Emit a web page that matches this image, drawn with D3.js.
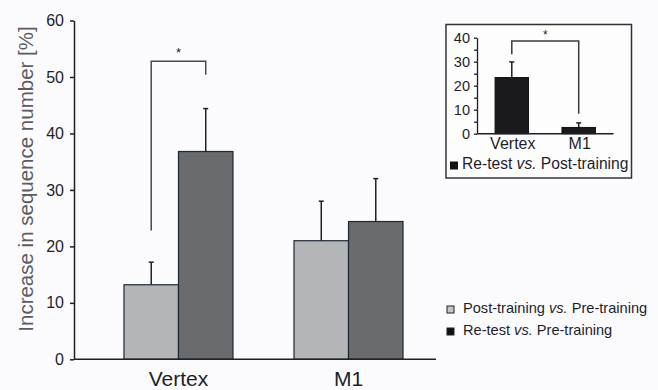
<!DOCTYPE html>
<html>
<head>
<meta charset="utf-8">
<script src="https://cdn.jsdelivr.net/npm/d3@7"></script>
<style>
body{margin:0;background:#fbfbfd}
svg{display:block;font-family:'Liberation Sans',Arial,sans-serif}
</style>
</head>
<body>
<svg id="chart" width="658" height="390"></svg>
<script>
// main panel: increase vs. pre-training
var groups = ['Vertex', 'M1']
var series = ['post', 'retest']
var seriesText = [['Post-training ', 'vs.', ' Pre-training'], ['Re-test ', 'vs.', ' Pre-training']]
var postMeans = [13.2, 21.0]
var postSem = [4.0, 7.0]
var retestMeans = [36.8, 24.4]
var retestSem = [7.6, 7.6]
var yTicks = [0, 10, 20, 30, 40, 50, 60]
// significance bracket (values in %): top, left leg end, right leg end
var sigMain = [52.8, 22.8, 50.4]

// inset: re-test vs. post-training
var insetMeans = [23.4, 2.6]
var insetSem = [6.5, 1.9]
var insetTicks = [0, 10, 20, 30, 40]
var insetMinor = [0, 5, 10, 15, 20, 25, 30, 35, 40]
var sigInset = [38.6, 33.1, 8.3]
var insetText = ['Re-test ', 'vs.', ' Post-training']

var svg = d3.select('#chart')
var ink = '#1d1f2b'

var y = d3.scaleLinear().domain([0, 60]).range([359.3, 20.5])
var x = d3.scaleBand().domain(groups).range([74, 453]).paddingInner(0.359).paddingOuter(0.294)
var xs = d3.scaleBand().domain(series).range([0, x.bandwidth()])
var fill = {post: '#b4b5b7', retest: '#6a6b6e'}

var bars = []
groups.forEach((g, i) => {
  bars.push({g: g, s: 'post', v: postMeans[i], e: postSem[i]})
  bars.push({g: g, s: 'retest', v: retestMeans[i], e: retestSem[i]})
})
var bx = d => x(d.g) + xs(d.s)

// bracket
var bl = x('Vertex') + xs('post') + xs.bandwidth() / 2
var br = x('Vertex') + xs('retest') + xs.bandwidth() / 2
svg.append('path')
  .attr('d', `M${bl},${y(sigMain[1])}V${y(sigMain[0])}H${br}V${y(sigMain[2])}`)
  .attr('fill', 'none').attr('stroke', '#4a4a50').attr('stroke-width', 1.5)
svg.append('text').attr('x', (bl + br) / 2).attr('y', y(sigMain[0]) - 4)
  .attr('text-anchor', 'middle').attr('font-size', 13).attr('fill', ink).text('*')

// error bars
var err = svg.append('g').attr('stroke', ink).attr('stroke-width', 1.5)
err.selectAll('line.v').data(bars).join('line')
  .attr('x1', d => bx(d) + xs.bandwidth() / 2).attr('x2', d => bx(d) + xs.bandwidth() / 2)
  .attr('y1', d => y(d.v)).attr('y2', d => y(d.v + d.e))
err.selectAll('line.c').data(bars).join('line')
  .attr('x1', d => bx(d) + xs.bandwidth() / 2 - 2.5).attr('x2', d => bx(d) + xs.bandwidth() / 2 + 2.5)
  .attr('y1', d => y(d.v + d.e)).attr('y2', d => y(d.v + d.e))

svg.append('g').selectAll('rect').data(bars).join('rect')
  .attr('x', bx).attr('width', xs.bandwidth())
  .attr('y', d => y(d.v)).attr('height', d => y(0) - y(d.v))
  .attr('fill', d => fill[d.s]).attr('stroke', '#1c2836').attr('stroke-width', 1.2)

// axes
var yAxis = svg.append('g').attr('transform', 'translate(74,0)')
  .call(d3.axisLeft(y).tickValues(yTicks).tickSize(4).tickSizeOuter(0).tickPadding(6))
yAxis.attr('font-family', null)
yAxis.selectAll('path,line').attr('stroke', ink).attr('stroke-width', 1.5)
yAxis.selectAll('text').attr('font-size', 16).attr('fill', ink)

svg.append('line').attr('x1', 74).attr('x2', 436).attr('y1', y(0)).attr('y2', y(0))
  .attr('stroke', ink).attr('stroke-width', 1.5)

svg.append('g').selectAll('text').data(groups).join('text')
  .attr('x', d => x(d) + x.bandwidth() / 2).attr('y', 386)
  .attr('text-anchor', 'middle').attr('font-size', 21).attr('fill', ink).text(d => d)

svg.append('text').attr('transform', 'translate(33,179) rotate(-90)')
  .attr('text-anchor', 'middle').attr('font-size', 20.5).attr('fill', '#5c5c62')
  .text('Increase in sequence number [%]')

// legend
var leg = svg.append('g').selectAll('g').data(series).join('g')
  .attr('transform', (d, i) => `translate(447,${306 + i * 22})`)
leg.append('rect').attr('width', 7).attr('height', 7)
  .attr('fill', (d, i) => i ? '#111' : '#c4c5c7').attr('stroke', '#222').attr('stroke-width', 1)
var lt = leg.append('text').attr('x', 16).attr('y', 6.5).attr('font-size', 14.6).attr('fill', ink)
lt.selectAll('tspan').data((d, i) => seriesText[i]).join('tspan')
  .attr('font-style', (d, i) => i == 1 ? 'italic' : null).text(d => d)

// inset
var inset = svg.append('g')
inset.append('rect').attr('x', 446).attr('y', 24.5).attr('width', 185.5).attr('height', 153.5)
  .attr('fill', '#fdfdfe').attr('stroke', '#333').attr('stroke-width', 1.5)

var iy = d3.scaleLinear().domain([0, 40]).range([133.7, 37.7])
var ix = d3.scaleBand().domain(groups).range([477, 613.5]).paddingInner(0.5).paddingOuter(0.27)

var il = ix('Vertex') + ix.bandwidth() / 2
var ir = ix('M1') + ix.bandwidth() / 2
inset.append('path')
  .attr('d', `M${il},${iy(sigInset[1])}V${iy(sigInset[0])}H${ir}V${iy(sigInset[2])}`)
  .attr('fill', 'none').attr('stroke', '#3a3a40').attr('stroke-width', 1.5)
inset.append('text').attr('x', (il + ir) / 2).attr('y', iy(sigInset[0]) - 2)
  .attr('text-anchor', 'middle').attr('font-size', 12).attr('fill', ink).text('*')

var ibars = groups.map((g, i) => ({g: g, v: insetMeans[i], e: insetSem[i]}))
var ie = inset.append('g').attr('stroke', ink).attr('stroke-width', 1.5)
ie.selectAll('line.v').data(ibars).join('line')
  .attr('x1', d => ix(d.g) + ix.bandwidth() / 2).attr('x2', d => ix(d.g) + ix.bandwidth() / 2)
  .attr('y1', d => iy(d.v)).attr('y2', d => iy(d.v + d.e))
ie.selectAll('line.c').data(ibars).join('line')
  .attr('x1', d => ix(d.g) + ix.bandwidth() / 2 - 2.5).attr('x2', d => ix(d.g) + ix.bandwidth() / 2 + 2.5)
  .attr('y1', d => iy(d.v + d.e)).attr('y2', d => iy(d.v + d.e))
inset.append('g').selectAll('rect').data(ibars).join('rect')
  .attr('x', d => ix(d.g)).attr('width', ix.bandwidth())
  .attr('y', d => iy(d.v)).attr('height', d => iy(0) - iy(d.v))
  .attr('fill', '#1a1a1c').attr('stroke', '#111').attr('stroke-width', 1)

var iyAxis = inset.append('g').attr('transform', 'translate(477,0)')
  .call(d3.axisLeft(iy).tickValues(insetMinor).tickSize(3).tickSizeOuter(0).tickPadding(4)
    .tickFormat(d => insetTicks.includes(d) ? d : ''))
iyAxis.attr('font-family', null)
iyAxis.selectAll('path,line').attr('stroke', ink).attr('stroke-width', 1.3)
iyAxis.selectAll('text').attr('font-size', 14.5).attr('fill', ink)

inset.append('line').attr('x1', 477).attr('x2', 613.5).attr('y1', iy(0)).attr('y2', iy(0))
  .attr('stroke', ink).attr('stroke-width', 1.5)

inset.append('g').selectAll('text').data(groups).join('text')
  .attr('x', d => ix(d) + ix.bandwidth() / 2 + 1).attr('y', 149.3)
  .attr('text-anchor', 'middle').attr('font-size', 16).attr('fill', ink).text(d => d)

inset.append('rect').attr('x', 450.5).attr('y', 162).attr('width', 7).attr('height', 7)
  .attr('fill', '#111').attr('stroke', '#111')
var it = inset.append('text').attr('x', 462).attr('y', 169.3).attr('font-size', 15.6).attr('fill', ink)
it.selectAll('tspan').data(insetText).join('tspan')
  .attr('font-style', (d, i) => i == 1 ? 'italic' : null).text(d => d)
</script>
</body>
</html>
